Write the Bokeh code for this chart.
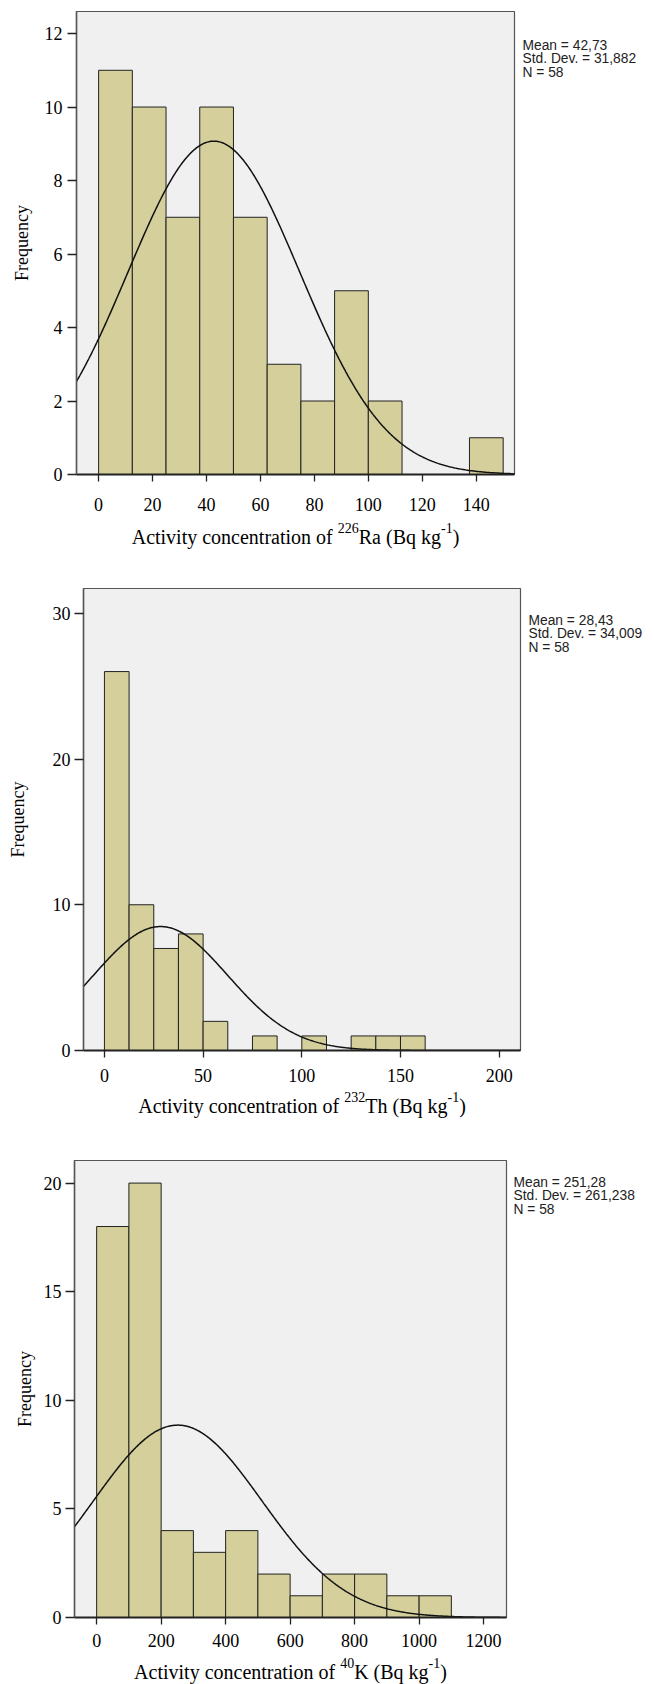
import numpy as np
from bokeh.plotting import figure
from bokeh.models import Range1d, FixedTicker
from bokeh.layouts import column, row
from bokeh.core.properties import value
from bokeh.embed import file_html
from bokeh.resources import INLINE

# ---------------- data ----------------
ra_bin_left = [0, 12.5, 25, 37.5, 50, 62.5, 75, 87.5, 100, 137.5]
ra_counts = [11, 10, 7, 10, 7, 3, 2, 5, 2, 1]
ra_bin_width = 12.5
ra_stats = ["Mean = 42,73", "Std. Dev. = 31,882", "N = 58"]
ra_mean, ra_sd, ra_n = 42.73, 31.882, 58
ra_xticks = [0, 20, 40, 60, 80, 100, 120, 140]
ra_yticks = [0, 2, 4, 6, 8, 10, 12]
ra_xlabel = [("Activity concentration of ", 0), ("226", 1), ("Ra (Bq kg", 0), ("-1", 1), (")", 0)]

th_bin_left = [0, 12.5, 25, 37.5, 50, 75, 100, 125, 137.5, 150]
th_counts = [26, 10, 7, 8, 2, 1, 1, 1, 1, 1]
th_bin_width = 12.5
th_stats = ["Mean = 28,43", "Std. Dev. = 34,009", "N = 58"]
th_mean, th_sd, th_n = 28.43, 34.009, 58
th_xticks = [0, 50, 100, 150, 200]
th_yticks = [0, 10, 20, 30]
th_xlabel = [("Activity concentration of ", 0), ("232", 1), ("Th (Bq kg", 0), ("-1", 1), (")", 0)]

k_bin_left = [0, 100, 200, 300, 400, 500, 600, 700, 800, 900, 1000]
k_counts = [18, 20, 4, 3, 4, 2, 1, 2, 2, 1, 1]
k_bin_width = 100
k_stats = ["Mean = 251,28", "Std. Dev. = 261,238", "N = 58"]
k_mean, k_sd, k_n = 251.28, 261.238, 58
k_xticks = [0, 200, 400, 600, 800, 1000, 1200]
k_yticks = [0, 5, 10, 15, 20]
k_xlabel = [("Activity concentration of ", 0), ("40", 1), ("K (Bq kg", 0), ("-1", 1), (")", 0)]

# ---------------- style ----------------
SERIF = "Liberation Serif"
SANS = "Liberation Sans"
BAR_FILL = "#D4CF9B"
BG = "#F0F0F0"
TOTAL_W = 654
LAB_PX = 20.0
SUP_PX = 14.0
SUP_RISE = 8.0
ASC = 0.891  # ascent of the serif font, in em

# Times-compatible advance widths (per 1000 em) for placing the label pieces
_TW = {' ': 250, 'A': 722, 'B': 667, 'K': 722, 'R': 667, 'T': 611, 'a': 444, 'c': 444,
       'e': 444, 'f': 333, 'g': 500, 'h': 500, 'i': 278, 'k': 500, 'n': 500, 'o': 500,
       'q': 500, 'r': 333, 't': 278, 'v': 500, 'y': 500, '(': 333, ')': 333, '-': 333}


def text_w(s, px):
    return sum(_TW.get(ch, 500) for ch in s) / 1000.0 * px


def blank(width, height, xr, yr):
    f = figure(width=width, height=height, output_backend="svg", toolbar_location=None,
               x_range=Range1d(*xr), y_range=Range1d(*yr),
               x_axis_type=None, y_axis_type=None, min_border=0)
    f.outline_line_color = None
    f.background_fill_color = "white"
    f.border_fill_color = "white"
    f.xgrid.visible = False
    f.ygrid.visible = False
    return f


def panel(bin_left, counts, bw, mean, sd, n, stats, xticks, yticks, xlabel,
          xr, yr, page_top, main_h, lab_h, border_l, frame_t, frame_w, frame_h,
          x_std, y_std, ylab_std, stats_x, stats_top, lab_base):
    main_w = border_l + frame_w + 2
    top_b = frame_t - page_top
    p = figure(width=main_w, height=main_h, output_backend="svg", toolbar_location=None,
               x_range=Range1d(*xr), y_range=Range1d(*yr))
    p.min_border_left = border_l
    p.min_border_right = 2
    p.min_border_top = top_b
    p.min_border_bottom = main_h - top_b - frame_h
    p.background_fill_color = BG
    p.border_fill_color = "white"
    p.outline_line_color = "#555555"
    p.outline_line_width = 1.2
    p.xgrid.visible = False
    p.ygrid.visible = False

    right = [b + bw for b in bin_left]
    p.quad(left=bin_left, right=right, bottom=0, top=counts,
           fill_color=BAR_FILL, line_color="#222222", line_width=1)

    xs = np.linspace(xr[0], xr[1], 500)
    ys = n * bw / (sd * np.sqrt(2 * np.pi)) * np.exp(-0.5 * ((xs - mean) / sd) ** 2)
    p.line(xs, ys, line_color="#111111", line_width=1.5)

    for ax, ticks in ((p.xaxis, xticks), (p.yaxis, yticks)):
        ax.ticker = FixedTicker(ticks=ticks)
        ax.minor_tick_line_color = None
        ax.major_tick_in = 0
        ax.major_tick_line_color = "#222222"
        ax.major_tick_line_width = 1.3
        ax.major_label_text_font = SERIF
        ax.major_label_text_font_size = "18px"
        ax.major_label_text_color = "black"
        ax.axis_label_text_font = SERIF
        ax.axis_label_text_font_style = "normal"
        ax.axis_label_text_color = "black"
    p.xaxis.major_tick_out = 7
    p.yaxis.major_tick_out = 9
    p.xaxis.axis_line_color = "#222222"
    p.xaxis.axis_line_width = 2
    p.yaxis.axis_line_color = "#555555"
    p.yaxis.axis_line_width = 1.5
    p.xaxis.major_label_standoff = x_std
    p.yaxis.major_label_standoff = y_std
    p.yaxis.axis_label = "Frequency"
    p.yaxis.axis_label_text_font_size = "18px"
    p.yaxis.axis_label_standoff = ylab_std

    # x axis title with superscripts, in a strip under the plot (page-pixel coordinates)
    y0 = page_top + main_h
    lab = blank(main_w, lab_h, (border_l, border_l + frame_w), (y0 + lab_h, y0))
    lab.min_border_left = border_l
    lab.min_border_right = 2
    lab.min_border_top = 0
    lab.min_border_bottom = 0
    widths = [text_w(t, SUP_PX if sup else LAB_PX) for t, sup in xlabel]
    x = border_l + frame_w / 2 - sum(widths) / 2
    for (t, sup), w in zip(xlabel, widths):
        size = SUP_PX if sup else LAB_PX
        base = lab_base - SUP_RISE if sup else lab_base
        lab.text(x=[x], y=[base - ASC * size], text=[t],
                 text_align="left", text_baseline="top", text_font=value(SERIF),
                 text_font_size=f"{size}px", text_color="black")
        x += w

    # statistics to the right of the frame (page-pixel coordinates)
    sw = TOTAL_W - main_w
    H = main_h + lab_h
    s = blank(sw, H, (main_w, TOTAL_W), (page_top + H, frame_t))
    s.min_border_top = top_b
    s.min_border_bottom = 0
    s.min_border_left = 0
    s.min_border_right = 0
    ypos = [stats_top + i * 13.5 for i in range(len(stats))]
    s.text(x=[stats_x] * len(stats), y=ypos, text=stats, text_align="left",
           text_baseline="top", text_font=value(SANS), text_font_size="13.8px",
           text_color="#222222")
    return row(column(p, lab, spacing=0), s, spacing=0)


p1 = panel(ra_bin_left, ra_counts, ra_bin_width, ra_mean, ra_sd, ra_n, ra_stats,
           ra_xticks, ra_yticks, ra_xlabel,
           xr=(-8.2, 154.2), yr=(0, 12.6), page_top=0, main_h=520, lab_h=40,
           border_l=76, frame_t=11, frame_w=438, frame_h=463,
           x_std=16, y_std=5, ylab_std=10, stats_x=522, stats_top=37, lab_base=543)
p2 = panel(th_bin_left, th_counts, th_bin_width, th_mean, th_sd, th_n, th_stats,
           th_xticks, th_yticks, th_xlabel,
           xr=(-10.6, 210.8), yr=(0, 31.7), page_top=560, main_h=530, lab_h=30,
           border_l=83, frame_t=588, frame_w=437, frame_h=462,
           x_std=11, y_std=4, ylab_std=22, stats_x=528, stats_top=612, lab_base=1112)
p3 = panel(k_bin_left, k_counts, k_bin_width, k_mean, k_sd, k_n, k_stats,
           k_xticks, k_yticks, k_xlabel,
           xr=(-68.7, 1271), yr=(0, 21.04), page_top=1120, main_h=535, lab_h=29,
           border_l=74, frame_t=1160, frame_w=432, frame_h=457,
           x_std=9, y_std=4, ylab_std=6, stats_x=513, stats_top=1174, lab_base=1678)

layout = column(p1, p2, p3, spacing=0)
open("out.html", "w").write(file_html(layout, INLINE))
